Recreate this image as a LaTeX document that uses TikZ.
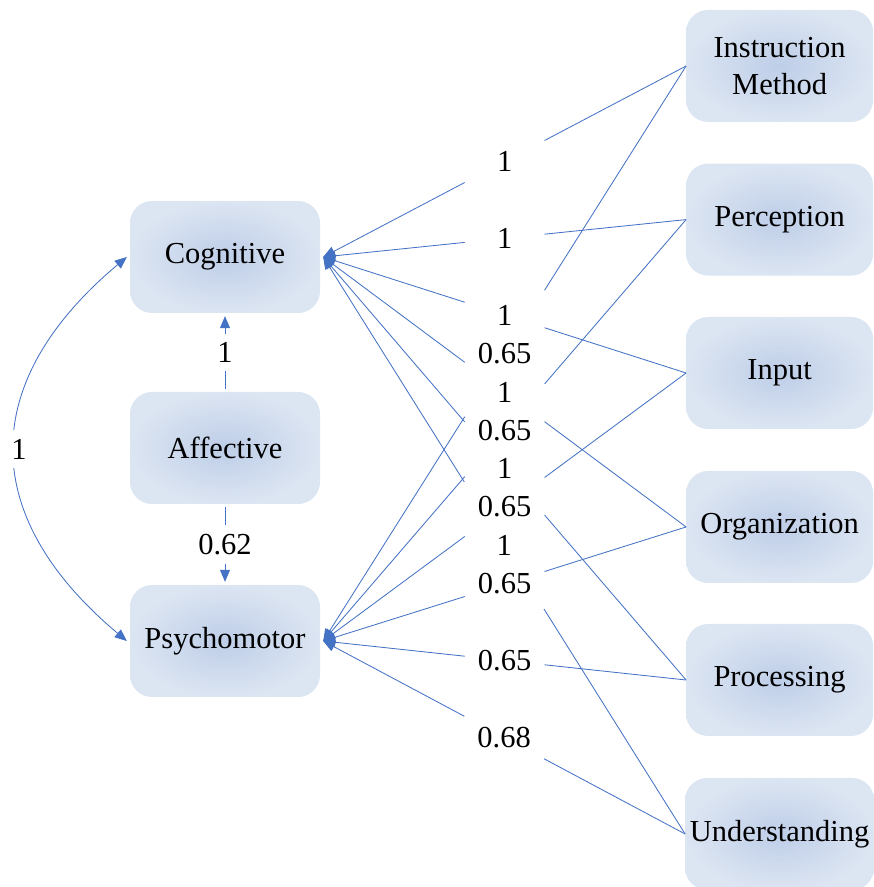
\documentclass[tikz,border=0pt]{standalone}
\usepackage{fontspec}
\setmainfont{Liberation Serif}
\usetikzlibrary{arrows.meta,calc}

\definecolor{linkblue}{RGB}{68,114,196}
\definecolor{boxinner}{RGB}{190,206,232}
\definecolor{boxouter}{RGB}{220,229,242}

\tikzset{
  factor/.style={rounded corners=0.55cm, shade, inner color=boxinner, outer color=boxouter,
    minimum width=4.75cm, minimum height=2.8cm, align=center, outer sep=0.08cm},
  item/.style={factor, minimum width=4.675cm, outer sep=0pt},
  link/.style={draw=linkblue, line width=0.6pt},
  tip/.style={-{Triangle[length=0.3cm,width=0.25cm]}},
  gapped/.style={fill=white, inner sep=0.22cm},
}

\begin{document}
\begin{tikzpicture}[every node/.style={font=\fontsize{21.7}{26.3}\selectfont}]
  \useasboundingbox (0,0) rectangle (21.825,22.175);
  % latent factors
  \node[factor] (cog) at (5.625,15.75) {Cognitive};
  \node[factor] (aff) at (5.625,10.975) {Affective};
  \node[factor] (psy) at (5.625,6.15) {Psychomotor};
  % indicators
  \node[item] (inst) at (19.49,20.525) {Instruction\\Method};
  \node[item] (perc) at (19.49,16.685) {Perception};
  \node[item] (inp) at (19.49,12.85) {Input};
  \node[item] (org) at (19.49,9.0) {Organization};
  \node[item] (proc) at (19.49,5.175) {Processing};
  \node[item] (und) at (19.49,1.325) {Understanding};

  \draw[link,tip] (aff) -- node[gapped] {1} (cog);
  \draw[link,tip] (aff) -- node[gapped] {0.62} (psy);
  \draw[link,{Triangle[length=0.3cm,width=0.25cm]}-{Triangle[length=0.3cm,width=0.25cm]}]
    (cog.west) to[bend right=50, looseness=1.3] node[gapped, xshift=0.1cm] {1} (psy.west);

  \foreach \src/\dst/\w in {inst/cog/1, perc/cog/1, inp/cog/1, org/cog/1, proc/cog/1, und/cog/1,
      inst/psy/0.65, perc/psy/0.65, inp/psy/0.65, org/psy/0.65, proc/psy/0.65, und/psy/0.68}{
    \draw[link] (\src.west) -- ($(\src.west)!0.39!(\dst.east)$);
    \draw[link,tip] ($(\src.west)!0.61!(\dst.east)$) -- (\dst.east);
    \node at ($(\src.west)!0.5!(\dst.east)$) {\w};
  }
\end{tikzpicture}
\end{document}
